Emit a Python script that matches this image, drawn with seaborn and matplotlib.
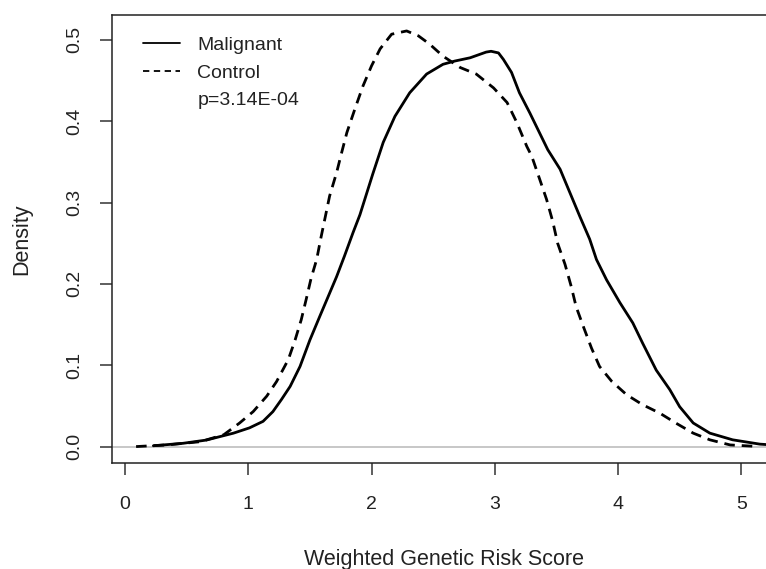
import numpy as np
import pandas as pd
import matplotlib
matplotlib.use("Agg")
import matplotlib.pyplot as plt
from matplotlib.lines import Line2D
import seaborn as sns

# density curves
control_x = [0.09, 0.34, 0.61, 0.80, 0.93, 1.04, 1.15, 1.23, 1.325, 1.38, 1.43, 1.47,
             1.51, 1.555, 1.59, 1.66, 1.717, 1.757, 1.80, 1.865, 1.93, 2.0, 2.07, 2.163,
             2.285, 2.38, 2.47, 2.58, 2.72, 2.85, 2.99, 3.10, 3.18, 3.26, 3.30, 3.366,
             3.42, 3.47, 3.51, 3.57, 3.62, 3.66, 3.72, 3.785, 3.85, 3.95, 4.07, 4.20,
             4.34, 4.47, 4.61, 4.745, 4.91, 5.09]
control_y = [0.0, 0.002, 0.006, 0.0144, 0.029, 0.043, 0.062, 0.080, 0.107, 0.131, 0.156, 0.181,
             0.207, 0.230, 0.257, 0.308, 0.337, 0.361, 0.386, 0.415, 0.443, 0.468, 0.489, 0.507,
             0.511, 0.505, 0.495, 0.480, 0.466, 0.458, 0.441, 0.423, 0.398, 0.369, 0.357, 0.328,
             0.304, 0.277, 0.25, 0.224, 0.197, 0.172, 0.147, 0.121, 0.0985, 0.080, 0.0637, 0.0514,
             0.041, 0.0288, 0.0165, 0.0083, 0.002, 0.0005]

malignant_x = [0.23, 0.47, 0.66, 0.88, 1.01, 1.12, 1.20, 1.27, 1.34, 1.42, 1.50, 1.58,
               1.65, 1.717, 1.78, 1.85, 1.906, 2.01, 2.095, 2.19, 2.31, 2.447, 2.58, 2.676,
               2.80, 2.93, 2.97, 3.03, 3.07, 3.136, 3.20, 3.285, 3.43, 3.53, 3.61, 3.69,
               3.77, 3.825, 3.907, 4.015, 4.12, 4.20, 4.31, 4.42, 4.50, 4.61, 4.745, 4.93,
               5.15, 5.35]
malignant_y = [0.001, 0.004, 0.008, 0.0165, 0.023, 0.031, 0.043, 0.058, 0.074, 0.0985, 0.131, 0.160,
               0.185, 0.209, 0.234, 0.263, 0.285, 0.335, 0.374, 0.406, 0.435, 0.458, 0.47, 0.474,
               0.478, 0.485, 0.486, 0.484, 0.476, 0.46, 0.435, 0.41, 0.365, 0.341, 0.312, 0.283,
               0.255, 0.23, 0.205, 0.177, 0.152, 0.127, 0.094, 0.070, 0.049, 0.029, 0.0165, 0.0083,
               0.003, 0.001]

x_ticks = [0, 1, 2, 3, 4, 5]
y_ticks = [0.0, 0.1, 0.2, 0.3, 0.4, 0.5]
y_tick_labels = ["0.0", "0.1", "0.2", "0.3", "0.4", "0.5"]
legend_labels = ["Malignant", "Control", "p=3.14E-04"]

sns.set_theme(style="ticks")
plt.rcParams['font.family'] = ['Liberation Sans', 'DejaVu Sans']

df_ctrl = pd.DataFrame({"score": control_x, "density": control_y})
df_mal = pd.DataFrame({"score": malignant_x, "density": malignant_y})

fig = plt.figure(figsize=(7.66, 5.69), dpi=100)
ax = fig.add_axes([0.1458, 0.1860, 0.8686, 0.7882])

ax.axhline(0, color="#bebebe", lw=1.2, zorder=1)
sns.lineplot(data=df_ctrl, x="score", y="density", ax=ax, color="black",
             lw=2.0, linestyle=(0, (3.8, 2.5)), zorder=3)
sns.lineplot(data=df_mal, x="score", y="density", ax=ax, color="black",
             lw=2.0, zorder=3)

ax.set_xlim(-0.108, 5.29)
ax.set_ylim(-0.0204, 0.531)
ax.set_xticks(x_ticks)
ax.set_yticks(y_ticks)
ax.set_yticklabels(y_tick_labels, rotation=90, va="center")
ax.tick_params(axis="both", length=8.6, width=1.1, color="#333333",
               labelsize=14, labelcolor="#222222")
ax.tick_params(axis="x", pad=15)
ax.tick_params(axis="y", pad=12)
for s in ax.spines.values():
    s.set_linewidth(1.1)
    s.set_color("#222222")

ax.set_xlabel("Weighted Genetic Risk Score", fontsize=15.5, color="#222222", labelpad=26)
ax.set_ylabel("Density", fontsize=15.5, color="#222222", labelpad=24)

handles = [Line2D([], [], color="black", lw=1.3),
           Line2D([], [], color="black", lw=1.3, linestyle=(0, (3.5, 2.5))),
           Line2D([], [], linestyle="none")]
ax.legend(handles, legend_labels, loc="upper left", bbox_to_anchor=(0.047, 0.952),
          frameon=False, fontsize=14, handlelength=1.9, handletextpad=0.9,
          labelspacing=0.52, borderpad=0, borderaxespad=0, labelcolor="#222222")

fig.savefig("out.png", dpi=100)
